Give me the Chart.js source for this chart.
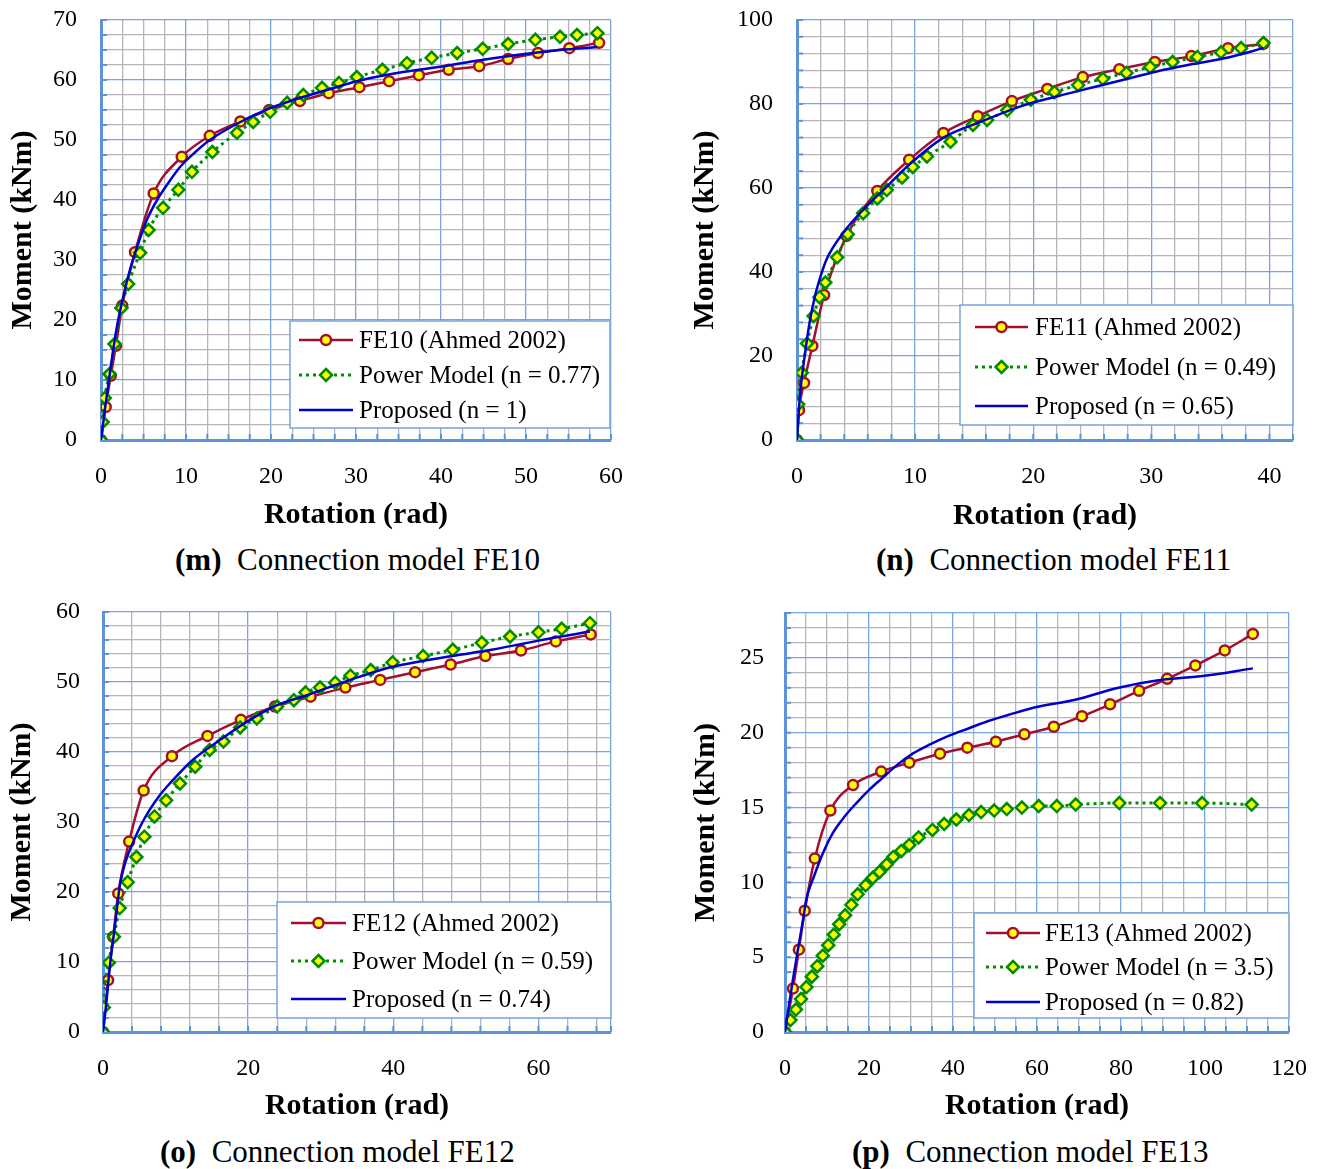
<!DOCTYPE html>
<html>
<head>
<meta charset="utf-8">
<title>Connection models FE10 - FE13</title>
<script src="https://cdn.jsdelivr.net/npm/chart.js@4.4.1/dist/chart.umd.min.js"></script>
<style>
  html, body { margin: 0; padding: 0; background: #fff; }
  #page { position: relative; width: 1319px; height: 1169px; overflow: hidden;
          font-family: "Liberation Serif", "Times New Roman", serif; }
  .panel { position: absolute; }
  .caption { position: absolute; font-size: 31px; line-height: 34px; white-space: pre; color: #000; }
</style>
</head>
<body>
<div id="page">
  <div class="panel" style="left:0;top:0"><canvas id="chartM" width="659" height="540"></canvas></div>
  <div class="panel" style="left:659px;top:0"><canvas id="chartN" width="660" height="540"></canvas></div>
  <div class="panel" style="left:0;top:590px"><canvas id="chartO" width="659" height="540"></canvas></div>
  <div class="panel" style="left:659px;top:590px"><canvas id="chartP" width="660" height="540"></canvas></div>

  <div class="caption" style="left:175px;top:543px"><b>(m)</b>  Connection model FE10</div>
  <div class="caption" style="left:876px;top:543px"><b>(n)</b>  Connection model FE11</div>
  <div class="caption" style="left:160px;top:1135px"><b>(o)</b>  Connection model FE12</div>
  <div class="caption" style="left:852px;top:1135px"><b>(p)</b>  Connection model FE13</div>
</div>

<script>
// ---- FE10 ----
var fe10X = [0, 0.55, 1.15, 1.75, 2.5, 4.0, 6.2, 9.5, 12.8, 16.4, 19.8, 23.4, 26.8, 30.4, 33.9, 37.4, 40.9, 44.5, 47.9, 51.4, 55.1, 58.6];
var fe10Y = [0, 5.5, 10.7, 15.7, 22.4, 31.3, 41.1, 47.2, 50.7, 53.1, 55.0, 56.5, 57.8, 58.8, 59.8, 60.8, 61.7, 62.3, 63.5, 64.5, 65.3, 66.2];
var pow10X = [0, 0.2, 0.45, 1.0, 1.6, 2.4, 3.2, 4.6, 5.6, 7.3, 9.1, 10.7, 13.1, 16.0, 17.9, 19.9, 21.9, 23.8, 26.0, 28.0, 30.1, 33.1, 36.0, 38.9, 41.9, 44.9, 47.9, 51.1, 54.0, 56.0, 58.4];
var pow10Y = [0, 3.0, 7.0, 11.0, 16.0, 22.0, 26.0, 31.2, 35.0, 38.7, 41.7, 44.7, 48.0, 51.2, 53.0, 54.7, 56.2, 57.5, 58.7, 59.5, 60.5, 61.7, 62.8, 63.7, 64.5, 65.2, 66.0, 66.7, 67.2, 67.5, 67.8];
var prop10X = [0, 0.5, 1.1, 1.8, 2.6, 3.4, 4.4, 5.4, 6.6, 7.9, 9.3, 11.1, 12.8, 16.4, 19.9, 23.4, 27.0, 30.1, 35.0, 39.9, 44.6, 49.6, 54.0, 58.4];
var prop10Y = [0, 5.5, 11.7, 18.3, 23.8, 28.3, 32.8, 36.7, 40.0, 42.8, 45.5, 48.0, 50.0, 53.0, 55.3, 57.0, 58.5, 59.8, 61.2, 62.2, 63.3, 64.3, 65.0, 65.5];

// ---- FE11 ----
var fe11X = [0, 0.17, 0.6, 1.3, 2.3, 4.2, 6.8, 9.5, 12.4, 15.3, 18.2, 21.2, 24.2, 27.3, 30.3, 33.4, 36.5, 39.5];
var fe11Y = [0, 7.1, 13.6, 22.4, 34.5, 48.6, 59.3, 66.7, 73.1, 77.1, 80.7, 83.6, 86.4, 88.3, 90.0, 91.4, 93.3, 94.3];
var pow11X = [0, 0.1, 0.4, 0.85, 1.4, 1.9, 2.4, 3.4, 4.3, 5.6, 6.8, 7.6, 8.9, 9.8, 11.0, 13.0, 14.9, 16.1, 17.8, 19.8, 21.8, 23.8, 25.9, 27.9, 29.9, 31.8, 33.9, 35.9, 37.6, 39.5];
var pow11Y = [0, 8.5, 16.0, 23.0, 29.5, 34.0, 37.5, 43.5, 49.0, 54.0, 57.5, 59.5, 62.5, 65.0, 67.5, 71.0, 75.0, 76.2, 78.5, 81.0, 82.8, 84.5, 86.0, 87.4, 88.8, 90.0, 91.2, 92.3, 93.3, 94.5];
var prop11X = [0, 0.25, 0.7, 1.1, 1.5, 2.0, 2.5, 3.9, 5.6, 7.3, 9.6, 12.4, 15.5, 19.0, 22.0, 25.1, 28.0, 30.7, 33.5, 36.4, 39.5];
var prop11Y = [0, 10.5, 21.0, 28.5, 34.0, 39.0, 43.0, 49.3, 54.8, 59.5, 65.8, 72.0, 75.7, 79.5, 81.8, 84.0, 86.0, 87.9, 89.5, 91.0, 93.3];

// ---- FE12 ----
var fe12X = [0, 0.7, 1.4, 2.1, 3.6, 5.6, 9.5, 14.4, 19.0, 23.7, 28.6, 33.4, 38.2, 43.0, 47.9, 52.7, 57.6, 62.4, 67.2];
var fe12Y = [0, 7.4, 13.6, 19.8, 27.2, 34.5, 39.4, 42.3, 44.6, 46.5, 47.9, 49.2, 50.3, 51.4, 52.5, 53.7, 54.5, 55.8, 56.8];
var pow12X = [0, 0.1, 0.8, 1.5, 2.3, 3.4, 4.6, 5.7, 7.1, 8.7, 10.6, 12.7, 14.7, 16.6, 18.9, 21.2, 24.0, 26.3, 27.9, 29.9, 32.0, 34.1, 36.9, 39.9, 44.1, 48.2, 52.2, 56.1, 60.0, 63.2, 67.1];
var pow12Y = [0, 3.5, 9.9, 13.6, 17.7, 21.4, 25.0, 27.9, 30.8, 33.1, 35.5, 37.9, 40.3, 41.5, 43.5, 44.8, 46.5, 47.4, 48.5, 49.2, 49.9, 50.9, 51.7, 52.8, 53.7, 54.6, 55.6, 56.5, 57.1, 57.6, 58.4];
var prop12X = [0, 0.4, 1.0, 1.7, 2.3, 3.1, 4.1, 5.2, 6.4, 7.8, 9.2, 12.4, 16.1, 19.8, 24.0, 28.1, 31.3, 35.5, 39.6, 44.0, 48.6, 53.5, 58.0, 62.5, 67.1];
var prop12Y = [0, 3.6, 9.9, 15.6, 20.8, 24.3, 27.0, 29.5, 31.7, 33.8, 35.5, 38.9, 41.7, 44.3, 46.7, 48.1, 49.3, 50.8, 52.1, 53.0, 53.8, 54.6, 55.5, 56.4, 57.2];

// ---- FE13 ----
var fe13X = [0, 1.9, 3.3, 4.7, 7.1, 10.8, 16.2, 22.9, 29.6, 36.9, 43.4, 50.2, 57.0, 64.0, 70.7, 77.4, 84.3, 91.0, 97.7, 104.7, 111.4];
var fe13Y = [0, 2.9, 5.5, 8.1, 11.6, 14.8, 16.5, 17.4, 18.0, 18.6, 19.0, 19.4, 19.9, 20.4, 21.1, 21.9, 22.8, 23.6, 24.5, 25.5, 26.6];
var pow13X = [0, 1.3, 2.6, 3.8, 5.1, 6.4, 7.7, 9.0, 10.3, 11.6, 12.9, 14.3, 15.8, 17.3, 19.2, 20.9, 22.5, 24.2, 25.8, 27.7, 29.6, 31.8, 35.1, 37.9, 40.8, 43.8, 46.7, 49.8, 52.8, 56.4, 60.4, 64.7, 69.2, 79.6, 89.3, 99.3, 111.1];
var pow13Y = [0, 0.8, 1.5, 2.2, 3.0, 3.7, 4.4, 5.1, 5.8, 6.5, 7.2, 7.8, 8.5, 9.2, 9.8, 10.3, 10.7, 11.2, 11.7, 12.1, 12.5, 13.0, 13.5, 13.9, 14.2, 14.5, 14.7, 14.8, 14.9, 15.0, 15.1, 15.1, 15.2, 15.3, 15.3, 15.3, 15.2];
var prop13X = [0, 1.0, 2.0, 3.2, 4.3, 5.1, 6.9, 9.1, 11.4, 14.2, 17.0, 20.1, 23.3, 26.5, 30.4, 34.4, 39.1, 43.8, 48.6, 53.3, 59.6, 69.1, 79.4, 88.9, 99.9, 111.4];
var prop13Y = [0, 1.9, 3.7, 5.7, 7.5, 8.9, 10.4, 12.0, 13.3, 14.4, 15.3, 16.2, 17.0, 17.8, 18.6, 19.2, 19.8, 20.3, 20.8, 21.2, 21.7, 22.2, 23.0, 23.5, 23.8, 24.3];

// legend texts
var labelsM = ['FE10 (Ahmed 2002)', 'Power Model (n = 0.77)', 'Proposed (n = 1)'];
var labelsN = ['FE11 (Ahmed 2002)', 'Power Model (n = 0.49)', 'Proposed (n = 0.65)'];
var labelsO = ['FE12 (Ahmed 2002)', 'Power Model (n = 0.59)', 'Proposed (n = 0.74)'];
var labelsP = ['FE13 (Ahmed 2002)', 'Power Model (n = 3.5)', 'Proposed (n = 0.82)'];

// axis ranges: min, max, labelled step, gridline step
var axisM = { x: [0, 60, 10, 2.5], y: [0, 70, 10, 2.5] };
var axisN = { x: [0, 42, 10, 2], y: [0, 100, 20, 4] };
var axisO = { x: [0, 70, 20, 4], y: [0, 60, 10, 2] };
var axisP = { x: [0, 120, 20, 5], y: [0, 28, 5, 1] };

var FONT = '"Liberation Serif", "Times New Roman", serif';
var GRID_BLUE = '#76a4de';
var GRID_GRAY = '#b5b5b5';
var AXIS_BLUE = '#5f93d8';
var RED = '#a3102e';
var GREEN = '#008c00';
var NAVY = '#0000cc';
var YELLOW = '#ffff00';

function tickValues(min, max, step) {
	var out = [];
	var n = Math.floor((max - min) / step + 1e-9);
	for ( var i = 0; i <= n; i++ ) {
		out.push( +( min + i * step ).toFixed( 6 ) );
	}
	if ( out[ out.length - 1 ] < max - 1e-9 ) {
		out.push( max );
	}
	return out;
}

function isMajor(v, major) {
	return Math.abs( v / major - Math.round( v / major ) ) < 1e-6;
}

function pts(xs, ys) {
	return xs.map( function( x, i ) { return { x: x, y: ys[ i ] }; } );
}

// small blue tick marks pointing into the plot, like the original axes
var innerTicks = {
	id: 'innerTicks',
	beforeDatasetsDraw: function( chart ) {
		var c = chart.ctx, a = chart.chartArea;
		c.save();
		c.strokeStyle = AXIS_BLUE;
		c.lineWidth = 2;
		chart.scales.x.ticks.forEach( function( t ) {
			var px = chart.scales.x.getPixelForValue( t.value );
			c.beginPath(); c.moveTo( px, a.bottom ); c.lineTo( px, a.bottom - 6 ); c.stroke();
		} );
		chart.scales.y.ticks.forEach( function( t ) {
			var py = chart.scales.y.getPixelForValue( t.value );
			c.beginPath(); c.moveTo( a.left, py ); c.lineTo( a.left + 6, py ); c.stroke();
		} );
		c.restore();
	}
};

function drawMarker(c, style, x, y, r) {
	c.beginPath();
	if ( style === 'rectRot' ) {
		c.moveTo( x, y - r ); c.lineTo( x + r, y ); c.lineTo( x, y + r ); c.lineTo( x - r, y ); c.closePath();
	} else {
		c.arc( x, y, r, 0, Math.PI * 2 );
	}
	c.fill();
	c.stroke();
}

function legendPlugin(L) {
	return {
		id: 'boxLegend',
		afterDraw: function( chart ) {
			var c = chart.ctx;
			c.save();
			c.fillStyle = '#fff';
			c.fillRect( L.x, L.y, L.w, L.h );
			c.strokeStyle = GRID_BLUE;
			c.lineWidth = 1.5;
			c.strokeRect( L.x, L.y, L.w, L.h );
			chart.data.datasets.forEach( function( d, i ) {
				var y = L.rows[ i ];
				c.strokeStyle = d.borderColor;
				c.lineWidth = d.borderWidth;
				c.setLineDash( d.borderDash || [] );
				c.beginPath(); c.moveTo( L.x1, y ); c.lineTo( L.x2, y ); c.stroke();
				c.setLineDash( [] );
				if ( d.pointRadius > 0 ) {
					c.fillStyle = d.pointBackgroundColor;
					c.strokeStyle = d.pointBorderColor;
					c.lineWidth = d.pointBorderWidth;
					drawMarker( c, d.pointStyle, ( L.x1 + L.x2 ) / 2, y, d.pointRadius );
				}
				c.fillStyle = '#000';
				c.font = '25px ' + FONT;
				c.textBaseline = 'middle';
				c.textAlign = 'left';
				c.fillText( d.label, L.tx, y + 1 );
			} );
			c.restore();
		}
	};
}

function axisOptions(ax, isX, p) {
	var vals = tickValues( ax[0], ax[1], ax[3] );
	var o = {
		type: 'linear',
		min: ax[0],
		max: ax[1],
		afterBuildTicks: function( s ) {
			s.ticks = vals.map( function( v ) { return { value: v }; } );
		},
		ticks: {
			autoSkip: false,
			maxRotation: 0,
			padding: isX ? 22 : p.yTickPad,
			color: '#000',
			font: { family: FONT, size: 24 },
			callback: function( v ) { return isMajor( v, ax[2] ) ? String( v ) : ''; }
		},
		grid: {
			drawTicks: false,
			lineWidth: 1.3,
			color: function( ctx ) {
				var v = ctx.tick ? ctx.tick.value : 0;
				return ( isMajor( v, ax[2] ) || v === ax[1] ) ? GRID_BLUE : GRID_GRAY;
			}
		},
		border: { color: AXIS_BLUE, width: 3 },
		title: {
			display: true,
			text: isX ? 'Rotation (rad)' : 'Moment (kNm)',
			color: '#000',
			font: { family: FONT, size: 30, weight: 'bold' },
			padding: isX ? { top: 0, bottom: p.xTitlePad } : { top: p.yTitlePad, bottom: 0 }
		}
	};
	// fix the plot box to the measured frame; labels may overhang the padding
	if ( isX ) {
		o.afterFit = function( s ) {
			s.height = p.h - p.plot.bottom;
			s.paddingLeft = 0; s.paddingRight = 0;
		};
	} else {
		o.afterFit = function( s ) {
			s.width = p.plot.left;
			s.paddingTop = 0; s.paddingBottom = 0;
		};
	}
	return o;
}

function buildPanel(p) {
	var datasets = [
		{
			label: p.labels[0], data: pts( p.fe[0], p.fe[1] ),
			borderColor: RED, borderWidth: 2.5,
			pointStyle: 'circle', pointRadius: 5, pointBorderWidth: 2.5,
			pointBackgroundColor: YELLOW, pointBorderColor: RED,
			cubicInterpolationMode: 'monotone', order: 3
		},
		{
			label: p.labels[1], data: pts( p.pow[0], p.pow[1] ),
			borderColor: GREEN, borderWidth: 3, borderDash: [ 3, 4 ],
			pointStyle: 'rectRot', pointRadius: 6, pointBorderWidth: 2.5,
			pointBackgroundColor: YELLOW, pointBorderColor: GREEN,
			cubicInterpolationMode: 'monotone', order: 2
		},
		{
			label: p.labels[2], data: pts( p.prop[0], p.prop[1] ),
			borderColor: NAVY, borderWidth: 2.5, pointRadius: 0,
			cubicInterpolationMode: 'monotone', order: 1
		}
	];

	return new Chart( document.getElementById( p.id ), {
		type: 'line',
		data: { datasets: datasets },
		options: {
			responsive: false,
			animation: false,
			layout: { padding: { left: 0, top: p.plot.top, right: p.w - p.plot.right, bottom: 0 } },
			plugins: { legend: { display: false }, tooltip: { enabled: false } },
			scales: {
				x: axisOptions( p.axis.x, true, p ),
				y: axisOptions( p.axis.y, false, p )
			}
		},
		plugins: [ innerTicks, legendPlugin( p.legend ) ]
	} );
}

buildPanel( {
	id: 'chartM', w: 659, h: 540, axis: axisM, labels: labelsM,
	fe: [ fe10X, fe10Y ], pow: [ pow10X, pow10Y ], prop: [ prop10X, prop10Y ],
	plot: { left: 101, right: 611, top: 20, bottom: 440 },
	yTickPad: 24, yTitlePad: 5, xTitlePad: 7,
	legend: { x: 290, y: 321, w: 320, h: 107, rows: [ 340, 375, 410 ], x1: 299, x2: 353, tx: 359 }
} );

buildPanel( {
	id: 'chartN', w: 660, h: 540, axis: axisN, labels: labelsN,
	fe: [ fe11X, fe11Y ], pow: [ pow11X, pow11Y ], prop: [ prop11X, prop11Y ],
	plot: { left: 138, right: 634, top: 20, bottom: 440 },
	yTickPad: 24, yTitlePad: 28, xTitlePad: 6,
	legend: { x: 301, y: 305, w: 333, h: 120, rows: [ 327, 367, 406 ], x1: 316, x2: 369, tx: 376 }
} );

buildPanel( {
	id: 'chartO', w: 659, h: 540, axis: axisO, labels: labelsO,
	fe: [ fe12X, fe12Y ], pow: [ pow12X, pow12Y ], prop: [ prop12X, prop12Y ],
	plot: { left: 103, right: 611, top: 22, bottom: 442 },
	yTickPad: 23, yTitlePad: 4, xTitlePad: 6,
	legend: { x: 277, y: 312, w: 334, h: 116, rows: [ 333, 371, 409 ], x1: 291, x2: 346, tx: 352 }
} );

buildPanel( {
	id: 'chartP', w: 660, h: 540, axis: axisP, labels: labelsP,
	fe: [ fe13X, fe13Y ], pow: [ pow13X, pow13Y ], prop: [ prop13X, prop13Y ],
	plot: { left: 126, right: 630, top: 23, bottom: 442 },
	yTickPad: 21, yTitlePad: 29, xTitlePad: 6,
	legend: { x: 315, y: 323, w: 315, h: 105, rows: [ 343, 377, 412 ], x1: 327, x2: 381, tx: 386 }
} );
</script>
</body>
</html>
